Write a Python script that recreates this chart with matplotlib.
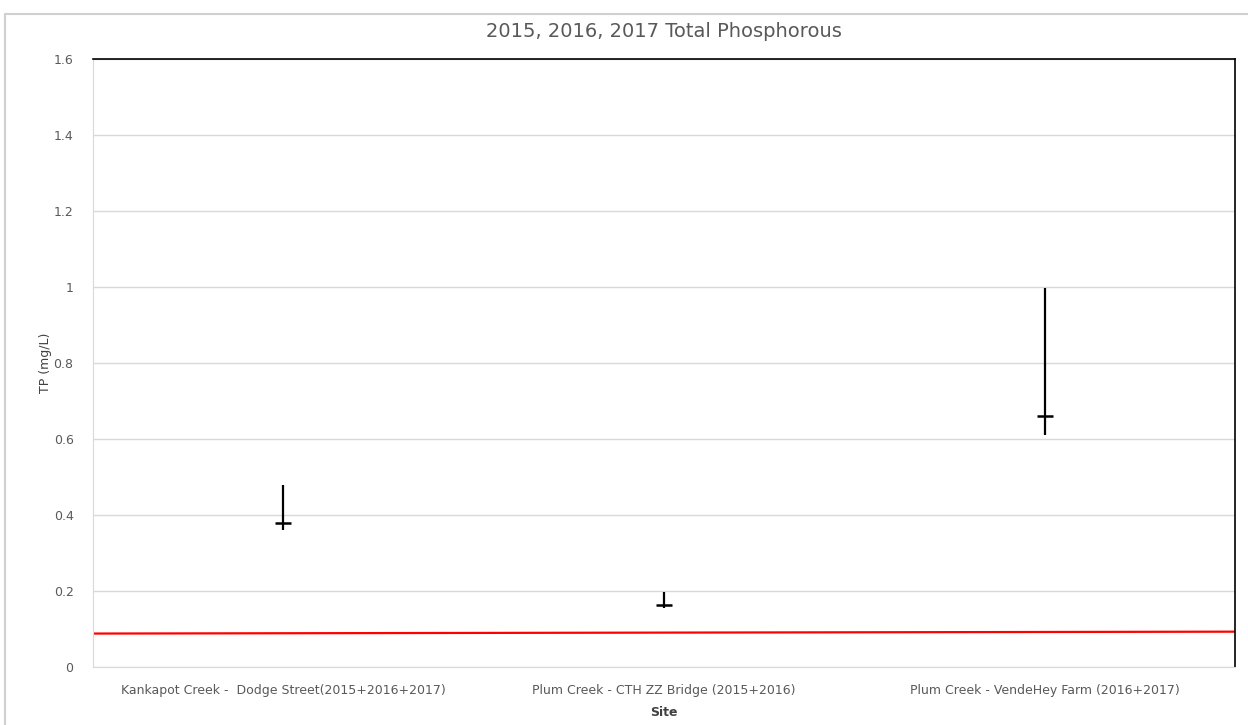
import matplotlib.pyplot as plt
from matplotlib.patches import Rectangle

sites = ['Kankapot Creek -  Dodge Street(2015+2016+2017)',
         'Plum Creek - CTH ZZ Bridge (2015+2016)',
         'Plum Creek - VendeHey Farm (2016+2017)']
tp_high = [0.48, 0.197, 0.997]
tp_low = [0.36, 0.155, 0.61]
tp_close = [0.38, 0.163, 0.66]
standard_x = [-0.5, 2.5]
standard_tp = [0.088, 0.093]

plt.rcParams['font.family'] = ['DejaVu Sans']

fig = plt.figure(figsize=(12.48, 7.25), dpi=100)
fig.patches.append(Rectangle((5 / 1248, -0.01), 1.1, 1 - 14 / 725 + 0.01,
                             transform=fig.transFigure, fill=False,
                             edgecolor='#d0d0d0', linewidth=1.5))
ax = fig.add_axes([93 / 1248, 1 - 667 / 725, (1235 - 93) / 1248, (667 - 59) / 725])

x = range(len(sites))
ax.vlines(x, tp_low, tp_high, color='black', linewidth=1.6)
ax.plot(x, tp_close, linestyle='none', marker='_', markersize=12,
        markeredgewidth=1.8, color='black')
ax.plot(standard_x, standard_tp, color='#ff0000', linewidth=1.6)

ax.set_xlim(-0.5, 2.5)
ax.set_ylim(0, 1.6)
ax.set_yticks([0, 0.2, 0.4, 0.6, 0.8, 1.0, 1.2, 1.4, 1.6])
ax.set_yticklabels(['0', '0.2', '0.4', '0.6', '0.8', '1', '1.2', '1.4', '1.6'])
ax.set_xticks(list(x))
ax.set_xticklabels(sites)
ax.tick_params(axis='y', length=0, pad=14, labelsize=9, labelcolor='#595959')
ax.tick_params(axis='x', length=0, pad=12, labelsize=9, labelcolor='#595959')
ax.grid(True, axis='y', color='#d9d9d9', linewidth=1)
ax.set_axisbelow(True)
for s in ['left', 'bottom']:
    ax.spines[s].set_color('#d9d9d9')
for s in ['top', 'right']:
    ax.spines[s].set_color('black')
    ax.spines[s].set_linewidth(1.2)

ax.set_title('2015, 2016, 2017 Total Phosphorous', fontsize=14, color='#595959', pad=16)
ax.set_ylabel('TP (mg/L)', fontsize=9, color='#404040', labelpad=1)
ax.set_xlabel('Site', fontsize=9, fontweight='bold', color='#404040', labelpad=7)

fig.savefig('out.png', dpi=100)
